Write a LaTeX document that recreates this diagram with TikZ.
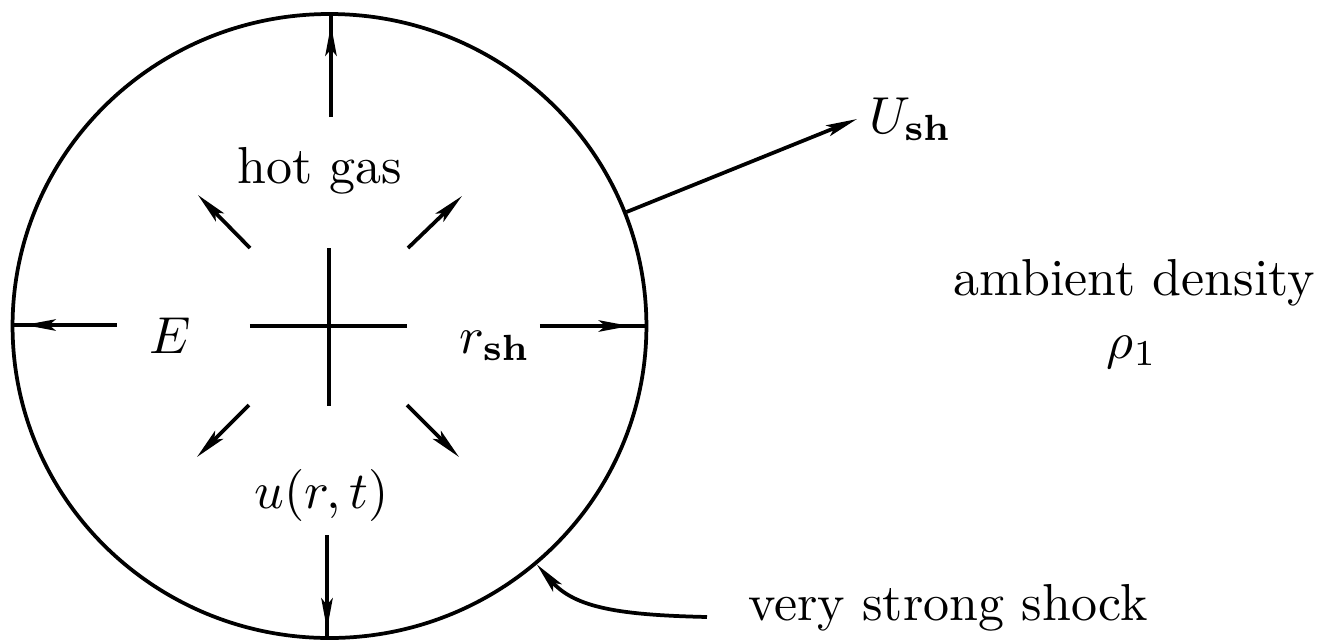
\documentclass[tikz,border=0pt]{standalone}
\usetikzlibrary{arrows.meta,decorations.markings,shapes.geometric}
\begin{document}
\begin{tikzpicture}[x=0.1923pt,y=-0.1923pt,
  tipA/.tip={Stealth[length=6pt,width=2.2pt,inset=1.3pt]},
  ln/.style={line width=0.72pt},
  radial/.style={ln, postaction={decorate},
    decoration={markings, mark=at position #1 with {\arrow{tipA}}}},
  endarr/.style={ln, -{tipA}},
  lbl/.style={inner sep=0pt, anchor=base, font=\fontsize{10}{12}\selectfont}]
\useasboundingbox (0,0) rectangle (1320,641);
% shock front
\node[draw, ln, ellipse, inner sep=0pt, minimum width=121.9pt, minimum height=120pt] (shock) at (329.5,326) {};
% central cross
\coordinate (cW) at (250,326); \coordinate (cE) at (407,326);
\coordinate (cN) at (329,248); \coordinate (cS) at (329,406);
\draw[ln] (cW) -- (cE);
\draw[ln] (cN) -- (cS);
% radial arrows to the shock
\coordinate (rN) at (331,117);
\coordinate (rW) at (117,325);
\coordinate (rE) at (540,326);
\coordinate (rS) at (327,535);
\draw[radial=0.88] (rN) -- (rN |- shock.north);
\draw[radial=0.87] (rW) -- (rW -| shock.west);
\draw[radial=0.83] (rE) -- (rE -| shock.east);
\draw[radial=0.90] (rS) -- (rS |- shock.south);
% diagonal flow arrows
\coordinate (d1a) at (250,248); \coordinate (d1b) at (198,195);
\coordinate (d2a) at (408,248); \coordinate (d2b) at (462,196);
\coordinate (d3a) at (249,405); \coordinate (d3b) at (197,457);
\coordinate (d4a) at (407,405); \coordinate (d4b) at (459,457);
\draw[endarr] (d1a) -- (d1b);
\draw[endarr] (d2a) -- (d2b);
\draw[endarr] (d3a) -- (d3b);
\draw[endarr] (d4a) -- (d4b);
% labels
\node[lbl] (hot) at (320,183) {hot gas};
\node[lbl] (E) at (170,353) {$E$};
\node[lbl] (rsh) at (495,353) {$r_{\mathbf{sh}}$};
\node[lbl] (u) at (322,508) {$u(r,t)$};
\node[lbl] (amb) at (1134,295) {ambient density};
\node[lbl] (rho) at (1132,358) {$\rho_1$};
\node[lbl] (vss) at (948,620) {very strong shock};
\node[lbl, anchor=base west] (Ush) at (868,133) {$U_{\mathbf{sh}}$};
% shock velocity
\coordinate (Utip) at (857,119);
\draw[endarr] (shock.21) -- (Utip);
% leader to shock
\coordinate (sh1) at (707,617);
\draw[ln, {tipA}-] (shock.-49) .. controls (575,608) and (620,615) .. (sh1);
\end{tikzpicture}
\end{document}
